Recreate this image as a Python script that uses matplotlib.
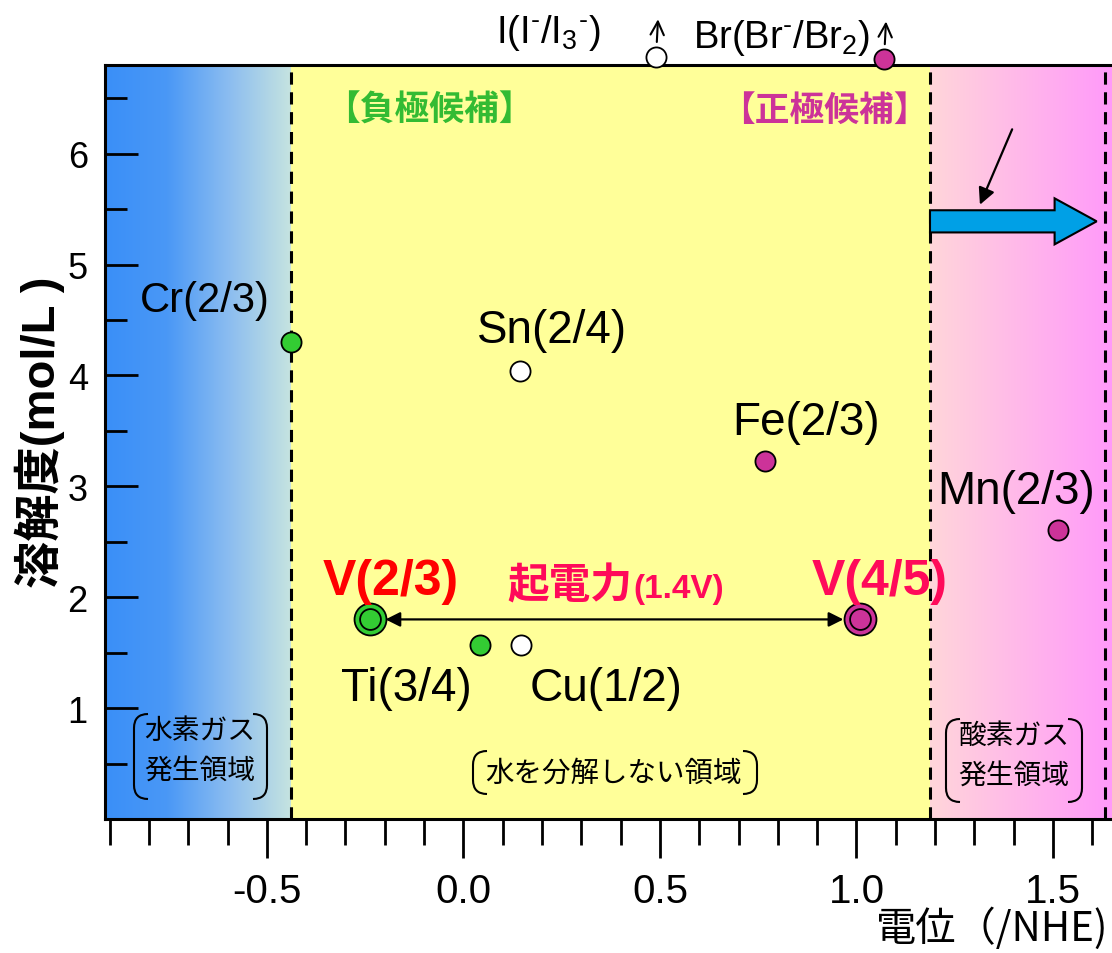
import numpy as np
import matplotlib
matplotlib.use('Agg')
import matplotlib.pyplot as plt
from matplotlib.path import Path
from matplotlib.patches import PathPatch, FancyArrow
from matplotlib.colors import LinearSegmentedColormap
from matplotlib.ticker import MultipleLocator, FixedLocator

plt.rcParams['font.family'] = ['Liberation Sans', 'Noto Sans CJK JP', 'DejaVu Sans']
plt.rcParams['mathtext.fontset'] = 'custom'
plt.rcParams['mathtext.rm'] = 'Liberation Sans'
plt.rcParams['mathtext.it'] = 'Liberation Sans'

# ---------------- data ----------------
couple_labels = ['Cr(2/3)', 'Sn(2/4)', 'Fe(2/3)', 'Mn(2/3)', 'Ti(3/4)', 'Cu(1/2)']
couple_potential = [-0.438, 0.144, 0.767, 1.512, 0.042, 0.147]
couple_solubility = [4.30, 4.04, 3.23, 2.61, 1.57, 1.57]
couple_kind = ['neg', 'none', 'pos', 'pos', 'neg', 'none']
label_offsets_px = [(-86, 42), (32, 41), (41, 39), (-42, 39), (-74, -43), (85, -43)]
label_sizes = [30, 33, 33, 33, 33, 33]

vanadium_labels = ['V(2/3)', 'V(4/5)']
vanadium_potential = [-0.237, 1.009]
vanadium_solubility = [1.80, 1.80]
vanadium_kind = ['neg', 'pos']
vanadium_text_colors = ['#ff0000', '#ff0a5a']

top_labels = ['I(I$^{\u2010}$/I$_{3}$$^{\u2010}$)', 'Br(Br$^{\u2010}$/Br$_{2}$)']
top_potential = [0.49, 1.07]
top_solubility = [6.87, 6.85]
top_kind = ['none', 'pos']

region_bounds = [-0.913, -0.438, 1.187, 1.65]
extra_dash = 1.632
x_major = [-0.5, 0.0, 0.5, 1.0, 1.5]
x_tick_labels = ['-0.5', '0.0', '0.5', '1.0', '1.5']
y_major = [1, 2, 3, 4, 5, 6]
ylim = (0, 6.8)

colors = {'neg': '#33cc33', 'pos': '#cc3399', 'none': 'white'}

W, H = 1112, 954
fig = plt.figure(figsize=(W / 100, H / 100), dpi=100)
ax = fig.add_axes([104.5 / W, 134 / H, (W - 104.5) / W, (820 - 66) / H])
ax.set_xlim(region_bounds[0], region_bounds[-1])
ax.set_ylim(*ylim)

# backgrounds
grad = np.linspace(0, 1, 256).reshape(1, -1)
blue = LinearSegmentedColormap.from_list('b', ['#3a8ff8', '#4a98f6', '#8cbdf0', '#c6e4e0'])
pink = LinearSegmentedColormap.from_list('p', ['#ffd6da', '#ff99fa'])
ax.imshow(grad, extent=[region_bounds[0], region_bounds[1], ylim[0], ylim[1]],
          cmap=blue, aspect='auto', zorder=0)
ax.axvspan(region_bounds[1], region_bounds[2], color='#ffff99', zorder=0, lw=0)
ax.imshow(grad, extent=[region_bounds[2], region_bounds[3], ylim[0], ylim[1]],
          cmap=pink, aspect='auto', zorder=0)
ax.set_xlim(region_bounds[0], region_bounds[-1])
ax.set_ylim(*ylim)

for xv in [region_bounds[1], region_bounds[2], extra_dash]:
    ax.axvline(xv, color='black', ls=(0, (4, 2.5)), lw=2.2, zorder=1)

# spines / ticks
for s in ['left', 'bottom', 'top']:
    ax.spines[s].set_linewidth(2.2)
ax.spines['right'].set_visible(False)
ax.xaxis.set_major_locator(FixedLocator(x_major))
ax.set_xticklabels(x_tick_labels)
ax.xaxis.set_minor_locator(MultipleLocator(0.1))
ax.yaxis.set_major_locator(FixedLocator(y_major))
ax.yaxis.set_minor_locator(MultipleLocator(0.5))
ax.tick_params(axis='x', which='major', direction='out', length=28, width=2,
               pad=10, labelsize=29, top=False)
ax.tick_params(axis='x', which='minor', direction='out', length=19, width=2, top=False)
ax.tick_params(axis='y', which='major', direction='in', length=24, width=2,
               pad=12, labelsize=26, right=False)
ax.tick_params(axis='y', which='minor', direction='in', length=16, width=2, right=False)
for t in ax.get_xticklabels():
    t.set_family(['Liberation Sans Narrow', 'Liberation Sans'])

# ordinary points
for lab, xv, yv, k, off, fs in zip(couple_labels, couple_potential, couple_solubility,
                                   couple_kind, label_offsets_px, label_sizes):
    ax.plot(xv, yv, 'o', ms=14.5, mfc=colors[k], mec='black', mew=1.3, zorder=5)
    ax.annotate(lab, (xv, yv), xytext=off, textcoords='offset pixels',
                ha='center', va='center', fontsize=fs, zorder=6)

# vanadium double circles
for lab, xv, yv, k, tc in zip(vanadium_labels, vanadium_potential, vanadium_solubility,
                              vanadium_kind, vanadium_text_colors):
    ax.plot(xv, yv, 'o', ms=23, mfc=colors[k], mec='black', mew=1.3, zorder=5)
    ax.plot(xv, yv, 'o', ms=15, mfc=colors[k], mec='black', mew=1.3, zorder=6)
    ax.annotate(lab, (xv, yv), xytext=(20, 38), textcoords='offset pixels',
                ha='center', va='center', fontsize=36, fontweight='bold', color=tc,
                family=['Liberation Sans Narrow', 'Liberation Sans'], zorder=6)

ax.annotate('', xy=(vanadium_potential[1], vanadium_solubility[1]),
            xytext=(vanadium_potential[0], vanadium_solubility[0]),
            arrowprops=dict(arrowstyle='<|-|>', color='black', lw=1.6,
                            shrinkA=11, shrinkB=12, mutation_scale=22), zorder=4)
ax.text(0.111, 2.0, '起電力', fontsize=30, fontweight='bold', color='#ff0a5a',
        family=['Noto Sans CJK JP'], ha='left', va='baseline')
ax.text(0.432, 2.0, '(1.4V)', fontsize=24, fontweight='bold', color='#ff0a5a',
        family=['Liberation Sans Narrow', 'Liberation Sans'], ha='left', va='baseline')

# top (off-scale) points
for lab, xv, yv, k in zip(top_labels, top_potential, top_solubility, top_kind):
    ax.plot(xv, yv, 'o', ms=14.5, mfc=colors[k], mec='black', mew=1.3, zorder=7,
            clip_on=False)
    ax.annotate('', xy=(xv, yv), xytext=(2, 38), textcoords='offset pixels',
                arrowprops=dict(arrowstyle='<-', color='black', lw=1.5,
                                shrinkA=0, shrinkB=11, mutation_scale=24),
                annotation_clip=False)
ax.annotate(top_labels[0], (top_potential[0], top_solubility[0]), xytext=(-108, 25),
            textcoords='offset pixels', ha='center', va='center', fontsize=27.5,
            annotation_clip=False)
ax.annotate(top_labels[1], (top_potential[1], top_solubility[1]), xytext=(-102, 22),
            textcoords='offset pixels', ha='center', va='center', fontsize=27.5,
            annotation_clip=False)

# candidate headings
ax.text(-0.352, 6.40, '【負極候補】', fontsize=25, fontweight='bold', color='#33bb33',
        family=['Noto Sans CJK JP'], ha='left', va='center')
ax.text(1.183, 6.40, '【正極候補】', fontsize=25, fontweight='bold', color='#cc3399',
        family=['Noto Sans CJK JP'], ha='right', va='center')

# blue arrow and pointer
ax.add_patch(FancyArrow(region_bounds[2], 5.39, 0.424, 0, width=0.2, head_width=0.415,
                        head_length=0.107, length_includes_head=True,
                        fc='#00a0e6', ec='black', lw=1.5, zorder=5))
ax.annotate('', xy=(1.314, 5.54), xytext=(1.396, 6.22),
            arrowprops=dict(arrowstyle='-|>', color='black', lw=1.6, mutation_scale=25,
                            shrinkA=0, shrinkB=0), zorder=5)

# bracket boxes (pixel coordinates -> figure fraction)
def fx(px):
    return px / W

def fy(py):
    return 1 - py / H

def bracket_box(x0, x1, y0, y1, lines, line_y, cx, size):
    r = 14
    for side in (0, 1):
        if side == 0:
            xa, xb = x0 + r, x0
        else:
            xa, xb = x1 - r, x1
        verts = [(xa, y0), (xb, y0), (xb, y0 + r), (xb, y1 - r), (xb, y1), (xa, y1)]
        verts = [(fx(a), fy(b)) for a, b in verts]
        codes = [Path.MOVETO, Path.CURVE3, Path.CURVE3, Path.LINETO, Path.CURVE3, Path.CURVE3]
        fig.add_artist(PathPatch(Path(verts, codes), fill=False, lw=1.5, ec='black',
                                 transform=fig.transFigure))
    for ln, ly in zip(lines, line_y):
        fig.text(fx(cx), fy(ly), ln, fontsize=size, family=['Noto Sans CJK JP'],
                 ha='center', va='center')

bracket_box(134, 267, 715, 800, ['水素ガス', '発生領域'], [731, 771], 200, 20)
bracket_box(473, 757, 752, 795, ['水を分解しない領域'], [774], 613, 20.5)
bracket_box(946, 1082, 720, 803, ['酸素ガス', '発生領域'], [736, 776], 1014, 20)

# axis labels
fig.text(fx(40), fy(432), '溶解度(mol/L )', rotation=90, fontsize=34, fontweight='bold',
         family=['Liberation Sans', 'Noto Sans CJK JP'], ha='center', va='center')
fig.text(fx(1108), fy(929), '電位（/NHE)', fontsize=29,
         family=['Liberation Sans Narrow', 'Noto Sans CJK JP'], ha='right', va='center')

fig.savefig('out.png', dpi=100)
